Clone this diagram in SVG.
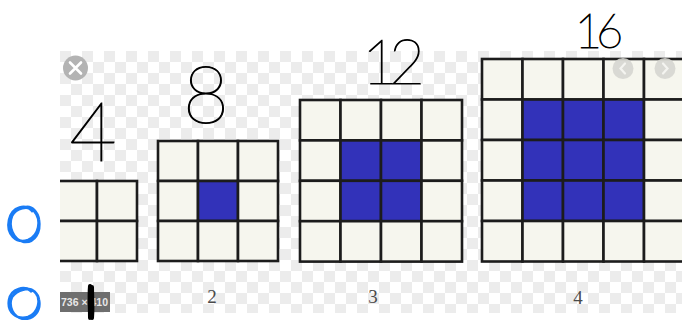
<svg xmlns="http://www.w3.org/2000/svg" width="682" height="320" viewBox="0 0 682 320">
<defs>
  <pattern id="chk" x="60" y="51" width="22" height="22" patternUnits="userSpaceOnUse">
    <rect width="22" height="22" fill="#ffffff"/>
    <rect width="11" height="11" fill="#ececec"/>
    <rect x="11" y="11" width="11" height="11" fill="#ececec"/>
  </pattern>
  <clipPath id="bg"><rect x="60" y="51" width="622" height="262"/></clipPath>
</defs>
<style>
  .cell{fill:#f6f6ee;stroke:#1c1c1c;stroke-width:2.6}
  .blue{fill:#3232b9;stroke:#1c1c1c;stroke-width:2.6}
  .lbl{font-family:"Liberation Serif","DejaVu Serif",serif;font-size:19px;fill:#4a4a4a;text-anchor:middle}
  .hand{font-family:"Lato","Inter","DejaVu Sans",sans-serif;font-weight:100;fill:#000;stroke:#000;stroke-width:1;text-anchor:middle}
  .circ{fill:none;stroke:#1a7cf5;stroke-width:2.6}
</style>
<rect width="682" height="320" fill="#ffffff"/>
<rect x="60" y="51" width="622" height="262" fill="url(#chk)"/>
<g clip-path="url(#bg)">
  <g id="grid1">
    <rect class="cell" x="57" y="181" width="40" height="40"/>
    <rect class="cell" x="97" y="181" width="40" height="40"/>
    <rect class="cell" x="57" y="221" width="40" height="40"/>
    <rect class="cell" x="97" y="221" width="40" height="40"/>
  </g>
  <g id="grid2">
    <rect class="cell" x="158" y="141" width="40" height="40"/>
    <rect class="cell" x="198" y="141" width="40" height="40"/>
    <rect class="cell" x="238" y="141" width="40" height="40"/>
    <rect class="cell" x="158" y="181" width="40" height="40"/>
    <rect class="blue" x="198" y="181" width="40" height="40"/>
    <rect class="cell" x="238" y="181" width="40" height="40"/>
    <rect class="cell" x="158" y="221" width="40" height="40"/>
    <rect class="cell" x="198" y="221" width="40" height="40"/>
    <rect class="cell" x="238" y="221" width="40" height="40"/>
  </g>
  <g id="grid3">
    <rect class="cell" x="300" y="100" width="40.5" height="40.4"/>
    <rect class="cell" x="340.5" y="100" width="40.5" height="40.4"/>
    <rect class="cell" x="381" y="100" width="40.5" height="40.4"/>
    <rect class="cell" x="421.5" y="100" width="40.5" height="40.4"/>
    <rect class="cell" x="300" y="140.4" width="40.5" height="40.4"/>
    <rect class="blue" x="340.5" y="140.4" width="40.5" height="40.4"/>
    <rect class="blue" x="381" y="140.4" width="40.5" height="40.4"/>
    <rect class="cell" x="421.5" y="140.4" width="40.5" height="40.4"/>
    <rect class="cell" x="300" y="180.8" width="40.5" height="40.4"/>
    <rect class="blue" x="340.5" y="180.8" width="40.5" height="40.4"/>
    <rect class="blue" x="381" y="180.8" width="40.5" height="40.4"/>
    <rect class="cell" x="421.5" y="180.8" width="40.5" height="40.4"/>
    <rect class="cell" x="300" y="221.2" width="40.5" height="40.4"/>
    <rect class="cell" x="340.5" y="221.2" width="40.5" height="40.4"/>
    <rect class="cell" x="381" y="221.2" width="40.5" height="40.4"/>
    <rect class="cell" x="421.5" y="221.2" width="40.5" height="40.4"/>
  </g>
  <g id="grid4">
    <rect class="cell" x="482" y="59" width="40.5" height="40.5"/>
    <rect class="cell" x="522.5" y="59" width="40.5" height="40.5"/>
    <rect class="cell" x="563" y="59" width="40.5" height="40.5"/>
    <rect class="cell" x="603.5" y="59" width="40.5" height="40.5"/>
    <rect class="cell" x="644" y="59" width="40.5" height="40.5"/>
    <rect class="cell" x="482" y="99.5" width="40.5" height="40.5"/>
    <rect class="blue" x="522.5" y="99.5" width="40.5" height="40.5"/>
    <rect class="blue" x="563" y="99.5" width="40.5" height="40.5"/>
    <rect class="blue" x="603.5" y="99.5" width="40.5" height="40.5"/>
    <rect class="cell" x="644" y="99.5" width="40.5" height="40.5"/>
    <rect class="cell" x="482" y="140" width="40.5" height="40.5"/>
    <rect class="blue" x="522.5" y="140" width="40.5" height="40.5"/>
    <rect class="blue" x="563" y="140" width="40.5" height="40.5"/>
    <rect class="blue" x="603.5" y="140" width="40.5" height="40.5"/>
    <rect class="cell" x="644" y="140" width="40.5" height="40.5"/>
    <rect class="cell" x="482" y="180.5" width="40.5" height="40.5"/>
    <rect class="blue" x="522.5" y="180.5" width="40.5" height="40.5"/>
    <rect class="blue" x="563" y="180.5" width="40.5" height="40.5"/>
    <rect class="blue" x="603.5" y="180.5" width="40.5" height="40.5"/>
    <rect class="cell" x="644" y="180.5" width="40.5" height="40.5"/>
    <rect class="cell" x="482" y="221" width="40.5" height="40.5"/>
    <rect class="cell" x="522.5" y="221" width="40.5" height="40.5"/>
    <rect class="cell" x="563" y="221" width="40.5" height="40.5"/>
    <rect class="cell" x="603.5" y="221" width="40.5" height="40.5"/>
    <rect class="cell" x="644" y="221" width="40.5" height="40.5"/>
  </g>
</g>
<g id="labels">
  <text class="lbl" x="212" y="303">2</text>
  <text class="lbl" x="373" y="303">3</text>
  <text class="lbl" x="578" y="304">4</text>
</g>
<g id="ui">
  <circle cx="75.5" cy="68" r="12.5" fill="#b3b3b3"/>
  <path d="M70 62.5 L81 73.5 M81 62.5 L70 73.5" stroke="#ffffff" stroke-width="2.6" stroke-linecap="round"/>
  <circle cx="623" cy="68.5" r="10.5" fill="#d6d6d0" opacity="0.9"/>
  <path d="M625 63.5 L620.5 68.5 L625 73.5" fill="none" stroke="#f4f4f0" stroke-width="2.2" stroke-linecap="round"/>
  <circle cx="665" cy="68.5" r="10.5" fill="#d6d6d0" opacity="0.9"/>
  <path d="M663 63.5 L667.5 68.5 L663 73.5" fill="none" stroke="#f4f4f0" stroke-width="2.2" stroke-linecap="round"/>
  <rect x="60" y="292" width="50" height="20" fill="#6e6e6e"/>
  <text x="61" y="306" font-family="Liberation Sans, Arial, sans-serif" font-size="10.5" font-weight="bold" fill="#e8e8e8">736 × 410</text>
</g>
<g id="annotations">
  <text class="hand" x="93" y="161" font-size="82">4</text>
  <text class="hand" x="206" y="123" font-size="80">8</text>
  <text class="hand" x="389" y="84" font-size="62" letter-spacing="-9">12</text>
  <text class="hand" x="596" y="48" font-size="47" letter-spacing="-6">16</text>
  <path d="M90 286 C89 296 90 306 90 318 M92 287 C92 297 93 307 92 318" stroke="#000" stroke-width="4" fill="none" stroke-linecap="round"/>
  <path class="circ" d="M33 212 C26 203 12 206 9 220 C6 234 16 244 28 240 C39 236 42 220 34 211 C28 205 16 208 12 216 C8 226 13 240 24 242 C35 243 41 232 39 220 C38 212 32 206 26 207"/>
  <path class="circ" d="M32 292 C25 285 11 288 9 300 C7 312 16 320 28 317 C38 313 42 300 35 292 C29 286 17 290 12 297 C8 306 13 318 24 319 C35 319 41 310 39 300 C38 293 32 288 26 289"/>
</g>
</svg>
